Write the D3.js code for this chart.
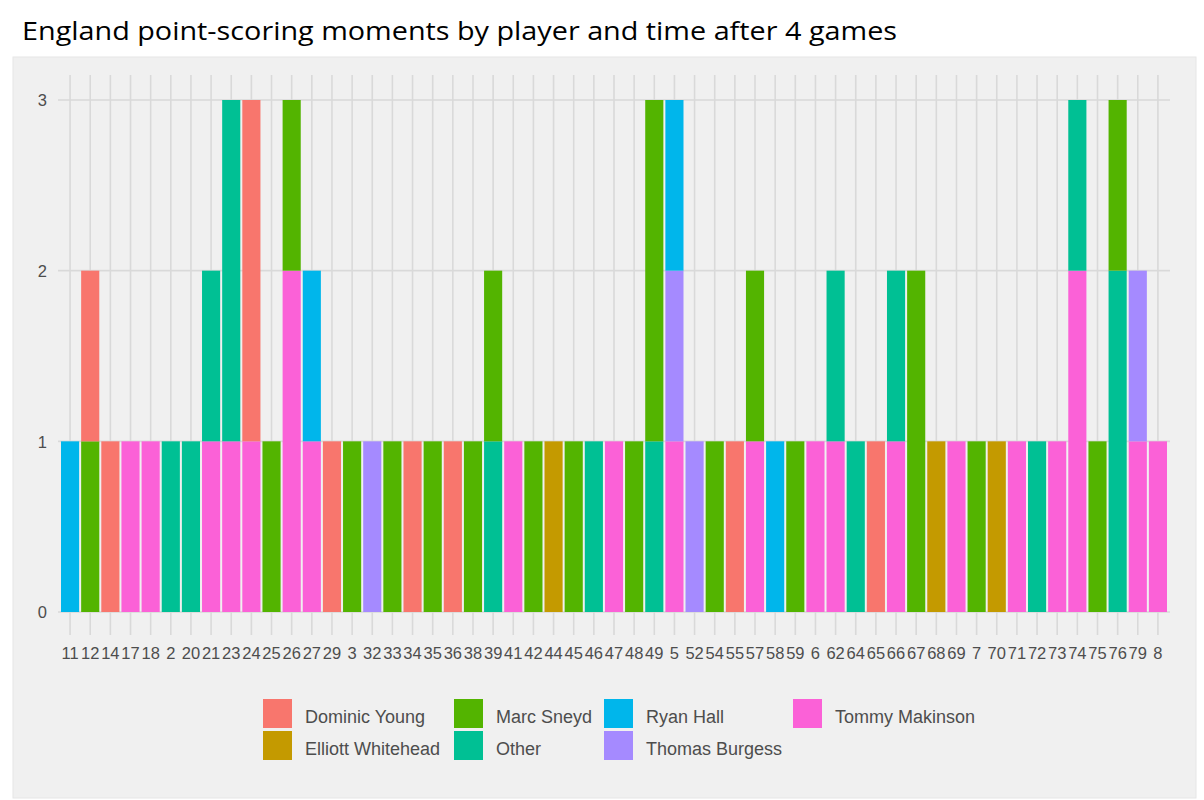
<!DOCTYPE html>
<html>
<head>
<meta charset="utf-8">
<script src="https://cdn.jsdelivr.net/npm/d3@7"></script>
<style>
  html, body { margin: 0; padding: 0; background: #ffffff; }
  svg { display: block; }
</style>
</head>
<body>
<svg id="chart" width="1204" height="800"></svg>
<script>
// ---- Data ----
const title = "England point-scoring moments by player and time after 4 games";
const times = ["11","12","14","17","18","2","20","21","23","24","25","26","27","29","3","32","33","34","35","36","38","39","41","42","44","45","46","47","48","49","5","52","54","55","57","58","59","6","62","64","65","66","67","68","69","7","70","71","72","73","74","75","76","79","8"];
const players = ["Dominic Young","Elliott Whitehead","Marc Sneyd","Other","Ryan Hall","Thomas Burgess","Tommy Makinson"];
const colors = ["#F8766D","#C49A00","#53B400","#00C094","#00B6EB","#A58AFF","#FB61D7"];
const yTicks = [0, 1, 2, 3];

//                        11 12 14 17 18 2 20 21 23 24 25 26 27 29 3 32 33 34 35 36 38 39 41 42 44 45 46 47 48 49 5 52 54 55 57 58 59 6 62 64 65 66 67 68 69 7 70 71 72 73 74 75 76 79 8
const dominicYoung     = [0, 1, 1, 0, 0, 0, 0, 0, 0, 2, 0, 0, 0, 1, 0, 0, 0, 1, 0, 1, 0, 0, 0, 0, 0, 0, 0, 0, 0, 0, 0, 0, 0, 1, 0, 0, 0, 0, 0, 0, 1, 0, 0, 0, 0, 0, 0, 0, 0, 0, 0, 0, 0, 0, 0];
const elliottWhitehead = [0, 0, 0, 0, 0, 0, 0, 0, 0, 0, 0, 0, 0, 0, 0, 0, 0, 0, 0, 0, 0, 0, 0, 0, 1, 0, 0, 0, 0, 0, 0, 0, 0, 0, 0, 0, 0, 0, 0, 0, 0, 0, 0, 1, 0, 0, 1, 0, 0, 0, 0, 0, 0, 0, 0];
const marcSneyd        = [0, 1, 0, 0, 0, 0, 0, 0, 0, 0, 1, 1, 0, 0, 1, 0, 1, 0, 1, 0, 1, 1, 0, 1, 0, 1, 0, 0, 1, 2, 0, 0, 1, 0, 1, 0, 1, 0, 0, 0, 0, 0, 2, 0, 0, 1, 0, 0, 0, 0, 0, 1, 1, 0, 0];
const other            = [0, 0, 0, 0, 0, 1, 1, 1, 2, 0, 0, 0, 0, 0, 0, 0, 0, 0, 0, 0, 0, 1, 0, 0, 0, 0, 1, 0, 0, 1, 0, 0, 0, 0, 0, 0, 0, 0, 1, 1, 0, 1, 0, 0, 0, 0, 0, 0, 1, 0, 1, 0, 2, 0, 0];
const ryanHall         = [1, 0, 0, 0, 0, 0, 0, 0, 0, 0, 0, 0, 1, 0, 0, 0, 0, 0, 0, 0, 0, 0, 0, 0, 0, 0, 0, 0, 0, 0, 1, 0, 0, 0, 0, 1, 0, 0, 0, 0, 0, 0, 0, 0, 0, 0, 0, 0, 0, 0, 0, 0, 0, 0, 0];
const thomasBurgess    = [0, 0, 0, 0, 0, 0, 0, 0, 0, 0, 0, 0, 0, 0, 0, 1, 0, 0, 0, 0, 0, 0, 0, 0, 0, 0, 0, 0, 0, 0, 1, 1, 0, 0, 0, 0, 0, 0, 0, 0, 0, 0, 0, 0, 0, 0, 0, 0, 0, 0, 0, 0, 0, 1, 0];
const tommyMakinson    = [0, 0, 0, 1, 1, 0, 0, 1, 1, 1, 0, 2, 1, 0, 0, 0, 0, 0, 0, 0, 0, 0, 1, 0, 0, 0, 0, 1, 0, 0, 1, 0, 0, 0, 1, 0, 0, 1, 1, 0, 0, 1, 0, 0, 1, 0, 0, 1, 0, 1, 2, 0, 0, 1, 1];

const seriesValues = [dominicYoung, elliottWhitehead, marcSneyd, other, ryanHall, thomasBurgess, tommyMakinson];

// ---- Build table ----
const table = times.map((t, i) => {
  const row = { time: t };
  players.forEach((p, j) => { row[p] = seriesValues[j][i]; });
  return row;
});

const svg = d3.select("#chart");
const axisFont = "'Liberation Sans', Arial, sans-serif";
const textColor = "#4D4D4D";
const gridColor = "#D9D9D9";

// Background box
svg.append("rect").attr("x", 13).attr("y", 57).attr("width", 1183).attr("height", 741)
  .attr("fill", "#F0F0F0").attr("stroke", "#E6E6E6").attr("stroke-width", 1);

// Title
svg.append("text").attr("x", 22).attr("y", 40)
  .attr("font-family", "'Open Sans', 'Noto Sans', sans-serif")
  .attr("font-size", 26).attr("fill", "#000")
  .attr("textLength", 875).attr("lengthAdjust", "spacingAndGlyphs")
  .text(title);

// Scales
const x = d3.scaleBand().domain(times).range([60, 1168]).paddingInner(0.1).paddingOuter(0.05);
const y = d3.scaleLinear().domain([0, 3]).range([612, 100]);
const color = d3.scaleOrdinal().domain(players).range(colors);

// Gridlines
const g = svg.append("g");
g.selectAll("line.v").data(times).join("line")
  .attr("x1", d => x(d) + x.bandwidth() / 2).attr("x2", d => x(d) + x.bandwidth() / 2)
  .attr("y1", y(3) - 25).attr("y2", y(0) + 23)
  .attr("stroke", gridColor).attr("stroke-width", 1.6);
g.selectAll("line.h").data(yTicks).join("line")
  .attr("x1", 58).attr("x2", 1170)
  .attr("y1", d => y(d)).attr("y2", d => y(d))
  .attr("stroke", gridColor).attr("stroke-width", 1.6);

// Stacked bars (first level on top, like ggplot)
const stack = d3.stack().keys(players.slice().reverse());
const layers = stack(table);
svg.append("g").selectAll("g").data(layers).join("g")
  .attr("fill", d => color(d.key))
  .selectAll("rect").data(d => d.filter(s => s[1] - s[0] > 0)).join("rect")
  .attr("x", d => x(d.data.time))
  .attr("width", x.bandwidth())
  .attr("y", d => y(d[1]))
  .attr("height", d => y(d[0]) - y(d[1]));

// Y axis labels
const yAxis = d3.axisLeft(y).tickValues(yTicks).tickSize(0).tickPadding(0).tickFormat(d3.format("d"));
const yg = svg.append("g").attr("transform", "translate(47,0)").call(yAxis);
yg.select(".domain").remove();
yg.selectAll("text").attr("font-family", axisFont).attr("font-size", 16.5).attr("fill", textColor).attr("dy", "0.35em");

// X axis labels
const xAxis = d3.axisBottom(x).tickSize(0).tickPadding(0);
const xg = svg.append("g").attr("transform", "translate(0,647)").call(xAxis);
xg.select(".domain").remove();
xg.selectAll("text").attr("font-family", axisFont).attr("font-size", 16.5).attr("fill", textColor).attr("dy", "0.71em");

// Legend: 2 rows, filled by column
const legendCols = [263, 454, 604, 793];
const legendRows = [699, 731];
const leg = svg.append("g");
players.forEach((p, i) => {
  const col = Math.floor(i / 2), row = i % 2;
  const lx = legendCols[col], ly = legendRows[row];
  leg.append("rect").attr("x", lx).attr("y", ly).attr("width", 29).attr("height", 29)
    .attr("fill", color(p));
  leg.append("text").attr("x", lx + 42).attr("y", ly + 24)
    .attr("font-family", axisFont).attr("font-size", 18).attr("fill", textColor)
    .text(p);
});
</script>
</body>
</html>
